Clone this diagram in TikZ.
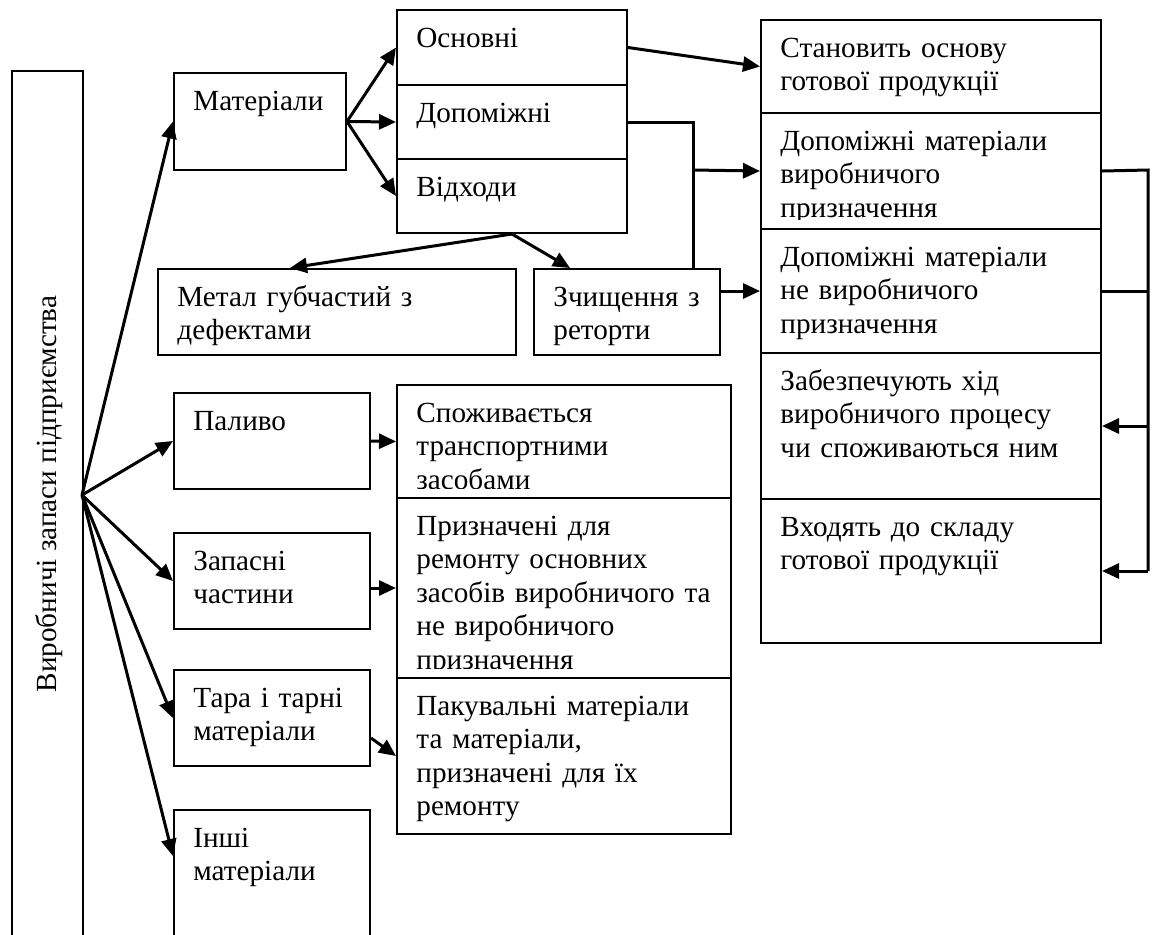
\documentclass[tikz,border=0pt]{standalone}
\usepackage{fontspec}
\setmainfont{Liberation Serif}
\usetikzlibrary{arrows.meta}
\newcommand{\cellgen}[6]{
  \node[cell,minimum width=#4*0.5pt,minimum height=#5*0.5pt](#1) at (#2,#3){};
  \begin{scope}
    \clip (#1.north west) rectangle ([shift={(0,-11)}]#1.south east);
    \node[celltext,text width=#4*0.5pt-10pt](#1-txt)
      at ([shift={(20,38)}]#1.north west){#6};
  \end{scope}
}

\begin{document}
\begin{tikzpicture}[
  x=0.5pt,y=-0.5pt,
  cell/.style={draw,line width=1pt,anchor=north west,inner sep=0pt},
  celltext/.style={anchor=base west,inner sep=0pt,align=left,
    font=\fontsize{14.6pt}{16.75pt}\selectfont},
  bus/.style={line width=1.5pt},
  link/.style={bus,-{Triangle[length=8.5pt,width=7.5pt]}},
  ]
  \useasboundingbox (0,0) rectangle (1154,934);
  \fill[white] (0,0) rectangle (1154,934);
  \clip (0,0) rectangle (1154,934);

  \node[cell,minimum width=71*0.5pt,minimum height=900*0.5pt](main) at (11,70){};
  \node[font=\fontsize{14.6pt}{16.75pt}\selectfont,rotate=90](main-txt)
    at (49,494){Виробничі запаси підприємства};
  \coordinate(src) at (82,495);

  \cellgen{mat}{173}{72}{172}{97}{Матеріали}
  \cellgen{pal}{173}{392}{196}{96}{Паливо}
  \cellgen{zap}{173}{532}{196}{96}{Запасні\\частини}
  \cellgen{tara}{173}{669}{196}{96}{Тара і тарні\\матеріали}
  \cellgen{inshi}{173}{809}{196}{160}{Інші\\матеріали}

  \cellgen{osn}{396}{9}{230}{75}{Основні}
  \cellgen{dop}{396}{84}{230}{74}{Допоміжні}
  \cellgen{vid}{396}{158}{230}{74}{Відходи}
  \cellgen{metal}{157}{268}{358}{86}{Метал губчастий з\\дефектами}
  \cellgen{zch}{533}{268}{186}{86}{Зчищення з\\реторти}

  \cellgen{spoz}{396}{384}{334}{113}{Споживається\\транспортними\\засобами}
  \cellgen{pryz}{396}{497}{334}{180}{Призначені для\\ремонту основних\\засобів виробничого та\\не виробничого\\призначення}
  \cellgen{pak}{396}{677}{334}{156}{Пакувальні матеріали\\та матеріали,\\призначені для їх\\ремонту}

  \cellgen{osnova}{760}{19}{340}{93}{Становить основу\\готової продукції}
  \cellgen{dopvyr}{760}{112}{340}{116}{Допоміжні матеріали\\виробничого\\призначення}
  \cellgen{dopnevyr}{760}{228}{340}{124}{Допоміжні матеріали\\не виробничого\\призначення}
  \cellgen{khid}{760}{352}{340}{146}{Забезпечують хід\\виробничого процесу\\чи споживаються ним}
  \cellgen{sklad}{760}{498}{340}{144}{Входять до складу\\готової продукції}

  \draw[link] (src) -- (mat.west);
  \draw[link] (src) -- (pal.west);
  \draw[link] (src) -- (zap.west);
  \draw[link] (src) -- (tara.west);
  \draw[link] (src) -- ([shift={(0,47)}]inshi.north west);

  \draw[link] (mat.east) -- (osn.west);
  \draw[link] (mat.east) -- (dop.west);
  \draw[link] (mat.east) -- (vid.west);
  \draw[link] (vid.south) -- ([shift={(133,0)}]metal.north west);
  \draw[link] (vid.south) -- ([shift={(37,0)}]zch.north west);

  \draw[link] (osn.east) -- (osnova.west);
  \coordinate(jn) at (693,170);
  \draw[bus] (dop.east) -| (jn |- zch.north);
  \draw[link] (jn) -- (dopvyr.west);
  \draw[link] (zch.east |- dopnevyr.west) -- (dopnevyr.west);

  \coordinate(rbus) at (1148,170);
  \draw[bus] (dopvyr.east) -- (rbus) -- (rbus |- sklad.east);
  \draw[bus] (dopnevyr.east) -- (rbus |- dopnevyr.east);
  \draw[link] (rbus |- khid.east) -- (khid.east);
  \draw[link] (rbus |- sklad.east) -- (sklad.east);

  \draw[link] (pal.east) -- (spoz.west);
  \draw[link] (zap.east |- pryz.west) -- (pryz.west);
  \draw[link] ([shift={(0,20)}]tara.east) -- (pak.west);
\end{tikzpicture}
\end{document}
